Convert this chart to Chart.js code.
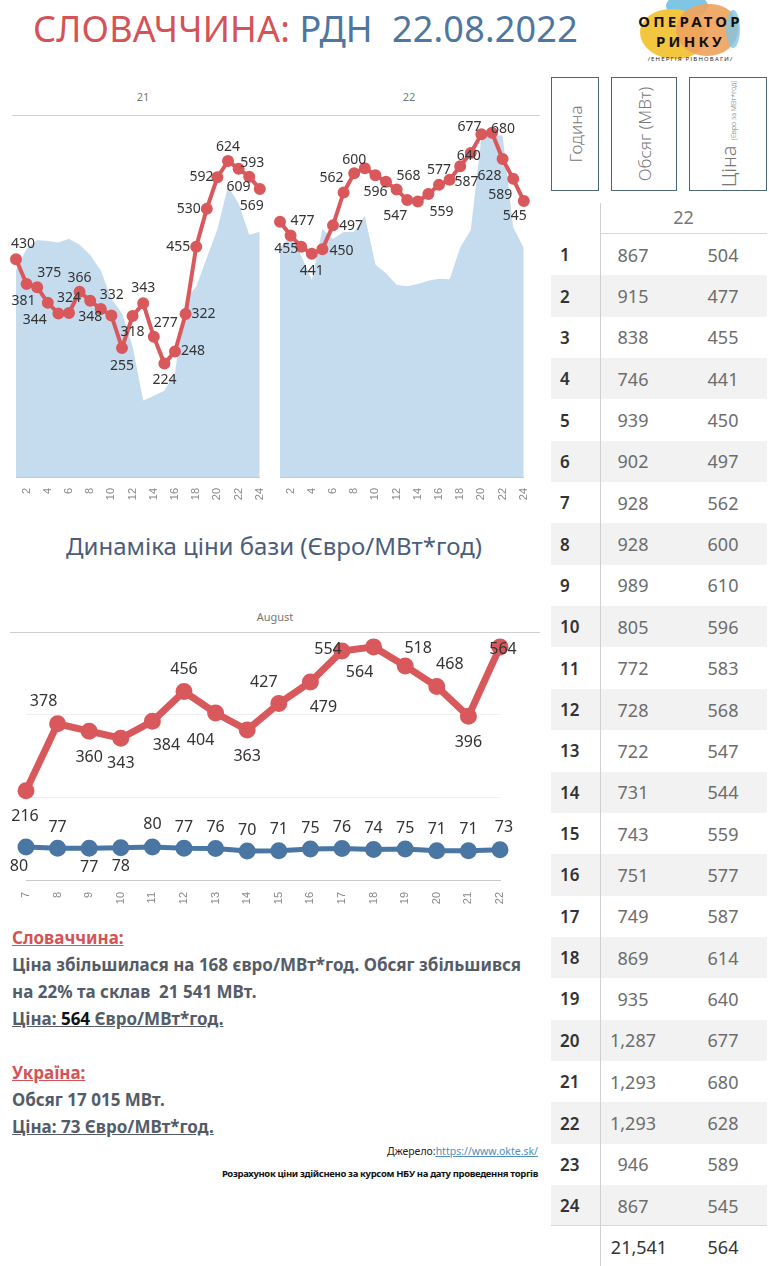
<!DOCTYPE html>
<html>
<head>
<meta charset="utf-8">
<script src="https://cdn.jsdelivr.net/npm/chart.js@4.4.0/dist/chart.umd.min.js"></script>
<style>
body{margin:0;width:769px;height:1266px;background:#fff;position:relative;overflow:hidden;font-family:"Noto Sans",sans-serif;}
.abs{position:absolute;}
.title{left:33px;top:4px;font-size:36px;white-space:nowrap;letter-spacing:0.2px;}
.panelhead{font-size:11px;color:#777;text-align:center;}
.hline{height:1px;background:#cfcfcf;}
.txt{left:12px;top:924px;font-size:17px;font-weight:bold;line-height:27px;color:#545c68;white-space:nowrap;}
.txt .red{color:#d45356;text-decoration:underline;}
.txt u{text-decoration:underline;}
.hbox{border:1px solid #4d6673;box-sizing:border-box;}
.vtxt{position:absolute;left:50%;top:50%;transform:translate(-50%,-50%) rotate(-90deg);white-space:nowrap;color:#777;font-size:17px;font-weight:300;}
.row{position:absolute;left:551px;width:216px;height:41.35px;}
.cell{position:absolute;top:0;height:100%;display:flex;align-items:center;font-size:18px;}
</style>
</head>
<body>
<!-- заголовок -->
<div class="abs title"><span style="color:#d45356">СЛОВАЧЧИНА:</span> <span style="color:#4e76a0">РДН&nbsp; 22.08.2022</span></div>

<!-- логотип -->
<div class="abs" style="left:628px;top:0;width:125px;height:70px;">
  <div class="abs" style="left:38px;top:-6px;width:42px;height:24px;border-radius:50%;background:#7fc6e6;"></div>
  <div class="abs" style="left:12px;top:9px;width:66px;height:50px;border-radius:48% 52% 45% 55%;background:#f3c640;"></div>
  <div class="abs" style="left:48px;top:4px;width:62px;height:52px;border-radius:50% 45% 50% 50%;background:#efa35c;opacity:0.92;"></div>
  <div class="abs" style="left:98px;top:10px;width:14px;height:38px;border-radius:50%;background:#7fc6e6;opacity:0.8;"></div>
  <div class="abs" style="left:0;top:11px;width:125px;text-align:center;font-size:15px;font-weight:bold;letter-spacing:3.2px;color:#111;line-height:20px;">ОПЕРАТОР<br>РИНКУ</div>
  <div class="abs" style="left:0;top:55px;width:125px;text-align:center;font-size:6px;letter-spacing:1.2px;color:#222;">/ЕНЕРГІЯ РІВНОВАГИ/</div>
</div>

<!-- верхній графік: шапки панелей -->
<div class="abs panelhead" style="left:12px;top:89px;width:262px;">21</div>
<div class="abs panelhead" style="left:278px;top:89px;width:262px;">22</div>
<div class="abs hline" style="left:12px;top:115px;width:528px;"></div>
<canvas id="day21" class="abs" width="266" height="390" style="left:10px;top:115px;"></canvas>
<canvas id="day22" class="abs" width="266" height="390" style="left:274px;top:115px;"></canvas>

<!-- нижній графік -->
<div class="abs" style="left:0;top:529px;width:548px;text-align:center;font-size:24px;color:#4b5d7b;">Динаміка ціни бази (Євро/МВт*год)</div>
<div class="abs panelhead" style="left:10px;top:609px;width:530px;">August</div>
<div class="abs hline" style="left:10px;top:632px;width:530px;"></div>
<canvas id="daily" class="abs" width="530" height="275" style="left:10px;top:632px;"></canvas>

<!-- текст -->
<div class="abs txt">
  <span class="red">Словаччина:</span><br>
  Ціна збільшилася на 168 євро/МВт*год. Обсяг збільшився<br>
  на 22% та склав&nbsp; 21 541 МВт.<br>
  <u>Ціна: <span style="color:#111">564 </span>Євро/МВт*год.</u><br>
  <br>
  <span class="red">Україна:</span><br>
  Обсяг 17 015 МВт.<br>
  <u>Ціна: 73 Євро/МВт*год.</u>
</div>
<div class="abs" style="right:231px;top:1144px;font-size:10.5px;color:#222;white-space:nowrap;">Джерело:<span style="color:#4f8fb5;text-decoration:underline;">https://www.okte.sk/</span></div>
<div class="abs" style="right:231px;top:1167px;font-size:9.5px;font-weight:bold;color:#111;white-space:nowrap;letter-spacing:-0.35px;">Розрахунок ціни здійснено за курсом НБУ на дату проведення торгів</div>

<!-- таблиця -->
<div class="abs hbox" style="left:551px;top:77px;width:48px;height:114px;"><div class="vtxt">Година</div></div>
<div class="abs hbox" style="left:611px;top:77px;width:66px;height:114px;"><div class="vtxt">Обсяг (МВт)</div></div>
<div class="abs hbox" style="left:689px;top:77px;width:78px;height:114px;"><div class="vtxt" style="font-size:20px;">Ціна <span style="font-size:7px;">(Євро за МВт*год)</span></div></div>
<div id="table"></div>

<script>
// ===== дані =====
const hours = ['1','2','3','4','5','6','7','8','9','10','11','12','13','14','15','16','17','18','19','20','21','22','23','24'];
const price21 = [430, 381, 375, 344, 323, 324, 366, 348, 332, 319, 255, 318, 343, 277, 224, 248, 322, 455, 530, 592, 624, 609, 593, 569];
const volume21 = [784, 864, 898, 894, 888, 902, 880, 841, 782, 675, 620, 494, 290, 308, 327, 396, 672, 721, 830, 938, 1100, 1037, 917, 929];
const price22 = [504, 477, 455, 441, 450, 497, 562, 600, 610, 596, 583, 568, 547, 544, 559, 577, 587, 614, 640, 677, 680, 628, 589, 545];
const volume22 = [867, 915, 838, 746, 939, 902, 928, 928, 989, 805, 772, 728, 722, 731, 743, 751, 749, 869, 935, 1287, 1293, 1293, 946, 867];
const totalVolume22 = '21,541';
const basePrice22 = 564;

const days = ['7','8','9','10','11','12','13','14','15','16','17','18','19','20','21','22'];
const priceSK = [216, 378, 360, 343, 384, 456, 404, 363, 427, 479, 554, 564, 518, 468, 396, 564];
const priceUA = [80, 77, 77, 78, 80, 77, 76, 70, 71, 75, 76, 74, 75, 71, 71, 73];

// зсуви підписів точок [dx, dy], null = без підпису
const lbl21 = [[7,-15],[-3,17],[12,-14],[-13,17],null,[0,-15],[0,-14],[0,16],[11,-14],null,[0,18],[0,16],
               [0,-15],[12,-14],[0,16],[18,0],[18,0],[-18,0],[-18,0],[-16,0],[0,-14],[0,18],[3,-14],[-8,17]];
const lbl22 = [null,[12,-14],[-15,2],[0,17],[19,2],[18,1],[-12,-14],[0,-13],null,[0,17],null,[12,-13],
               [-12,16],null,[13,18],[0,-15],[17,2],null,[-2,3],[-12,-7],[11,-4],[-13,17],[-13,16],[-9,15]];
const lblSK = [[-1,26],[-14,-22],[0,26],[0,25],[14,24],[0,-22],[-15,27],[0,26],[-15,-21],[13,25],[-14,-2],[-14,26],[13,-17],[13,-22],[0,26],[3,3]];
const lblUA = [[-7,20],[0,-21],[0,19],[0,19],[0,-22],[0,-21],[0,-21],[0,-21],[0,-21],[0,-21],[0,-21],[0,-21],[0,-21],[0,-21],[0,-21],[4,-22]];

const RED = '#d9585b';
const BLUE = '#4a76a3';

// плагін підписів значень
const pointLabels = {
  id: 'pointLabels',
  afterDatasetsDraw(chart, args, opts) {
    const ctx = chart.ctx;
    chart.data.datasets.forEach((ds, di) => {
      if (!ds.labelOffsets) return;
      const meta = chart.getDatasetMeta(di);
      ctx.save();
      ctx.font = opts.font || '14px "Noto Sans"';
      ctx.fillStyle = '#333';
      ctx.textAlign = 'center';
      ctx.textBaseline = 'middle';
      meta.data.forEach((pt, i) => {
        const off = ds.labelOffsets[i];
        if (!off) return;
        ctx.fillText(ds.data[i], pt.x + off[0], pt.y + off[1]);
      });
      ctx.restore();
    });
  }
};

function makeDayChart(id, prices, volumes, offsets) {
  new Chart(document.getElementById(id), {
    type: 'line',
    data: {
      labels: hours,
      datasets: [
        { data: prices, yAxisID: 'yp', borderColor: RED, backgroundColor: RED, borderWidth: 4,
          pointRadius: 4, pointHoverRadius: 4, tension: 0, clip: false, labelOffsets: offsets },
        { data: volumes, yAxisID: 'yv', fill: 'origin', backgroundColor: '#c5dcef', borderWidth: 0,
          pointRadius: 0, tension: 0 }
      ]
    },
    options: {
      responsive: false, animation: false,
      layout: { autoPadding: false, padding: { left: 6, right: 7, top: 0, bottom: 0 } },
      plugins: { legend: { display: false }, tooltip: { enabled: false }, pointLabels: { font: '14px "Noto Sans"' } },
      scales: {
        x: {
          offset: false,
          grid: { display: false },
          border: { display: true, color: '#c8c8c8' },
          ticks: { autoSkip: false, minRotation: 90, maxRotation: 90, color: '#888', font: { size: 11 }, padding: 3,
                   callback: (v, i) => (i % 2 === 1 ? hours[i] : '') },
          afterFit: s => { s.height = 28; }
        },
        yp: { display: false, min: 0, max: 715 },
        yv: {
          position: 'right', min: 0, max: 1371,
          ticks: { display: false, stepSize: 500 },
          border: { display: false },
          grid: { drawTicks: false, color: c => (c.tick.value === 500 || c.tick.value === 1000 ? '#efefef' : 'transparent') },
          afterFit: s => { s.width = 0; }
        }
      }
    },
    plugins: [pointLabels]
  });
}

makeDayChart('day21', price21, volume21, lbl21);
makeDayChart('day22', price22, volume22, lbl22);

// динаміка ціни бази
new Chart(document.getElementById('daily'), {
  type: 'line',
  data: {
    labels: days,
    datasets: [
      { data: priceSK, borderColor: RED, backgroundColor: RED, borderWidth: 7, pointRadius: 5, pointHoverRadius: 5,
        tension: 0, clip: false, labelOffsets: lblSK },
      { data: priceUA, borderColor: BLUE, backgroundColor: BLUE, borderWidth: 5, pointRadius: 6, pointHoverRadius: 6,
        tension: 0, clip: false, labelOffsets: lblUA }
    ]
  },
  options: {
    responsive: false, animation: false,
    layout: { autoPadding: false, padding: { left: 16, right: 40, top: 0, bottom: 0 } },
    plugins: { legend: { display: false }, tooltip: { enabled: false }, pointLabels: { font: '16px "Noto Sans"' } },
    scales: {
      x: {
        offset: false,
        grid: { display: false },
        border: { display: true, color: '#c8c8c8' },
        ticks: { autoSkip: false, minRotation: 90, maxRotation: 90, color: '#888', font: { size: 11 }, padding: 4 },
        afterFit: s => { s.height = 27; }
      },
      y: {
        min: 0, max: 600,
        ticks: { display: false, stepSize: 200 },
        border: { display: false },
        grid: { drawTicks: false, color: c => (c.tick.value === 200 || c.tick.value === 400 ? '#efefef' : 'transparent') },
        afterFit: s => { s.width = 0; }
      }
    }
  },
  plugins: [pointLabels]
});

// таблиця погодинних даних
(function buildTable() {
  const t = document.getElementById('table');
  let html = '';
  html += '<div class="abs" style="left:600px;top:205px;width:167px;text-align:center;font-size:18px;color:#777;">22</div>';
  html += '<div class="abs" style="left:600px;top:233px;width:167px;height:1px;background:#d8d8d8;"></div>';
  const rowH = 41.35, top0 = 234;
  hours.forEach((h, i) => {
    const y = top0 + i * rowH;
    const bg = i % 2 === 1 ? '#f2f2f2' : 'transparent';
    html += `<div class="row" style="top:${y}px;background:${bg};">
      <div class="cell" style="left:9px;color:#333;font-weight:600;font-size:17px;">${h}</div>
      <div class="cell" style="left:52px;width:60px;justify-content:center;color:#6d6d6d;">${volume22[i].toLocaleString('en-US')}</div>
      <div class="cell" style="left:142px;width:60px;justify-content:center;color:#6d6d6d;">${price22[i]}</div>
    </div>`;
  });
  const yt = top0 + 24 * rowH;
  html += `<div class="abs" style="left:551px;top:${yt - 1}px;width:216px;height:1px;background:#d8d8d8;"></div>`;
  html += `<div class="row" style="top:${yt}px;">
      <div class="cell" style="left:52px;width:72px;justify-content:center;color:#333;">${totalVolume22}</div>
      <div class="cell" style="left:142px;width:60px;justify-content:center;color:#333;">${basePrice22}</div>
    </div>`;
  html += '<div class="abs" style="left:600px;top:203px;width:1px;height:1063px;background:#d0d0d0;"></div>';
  t.innerHTML = html;
})();
</script>
</body>
</html>
